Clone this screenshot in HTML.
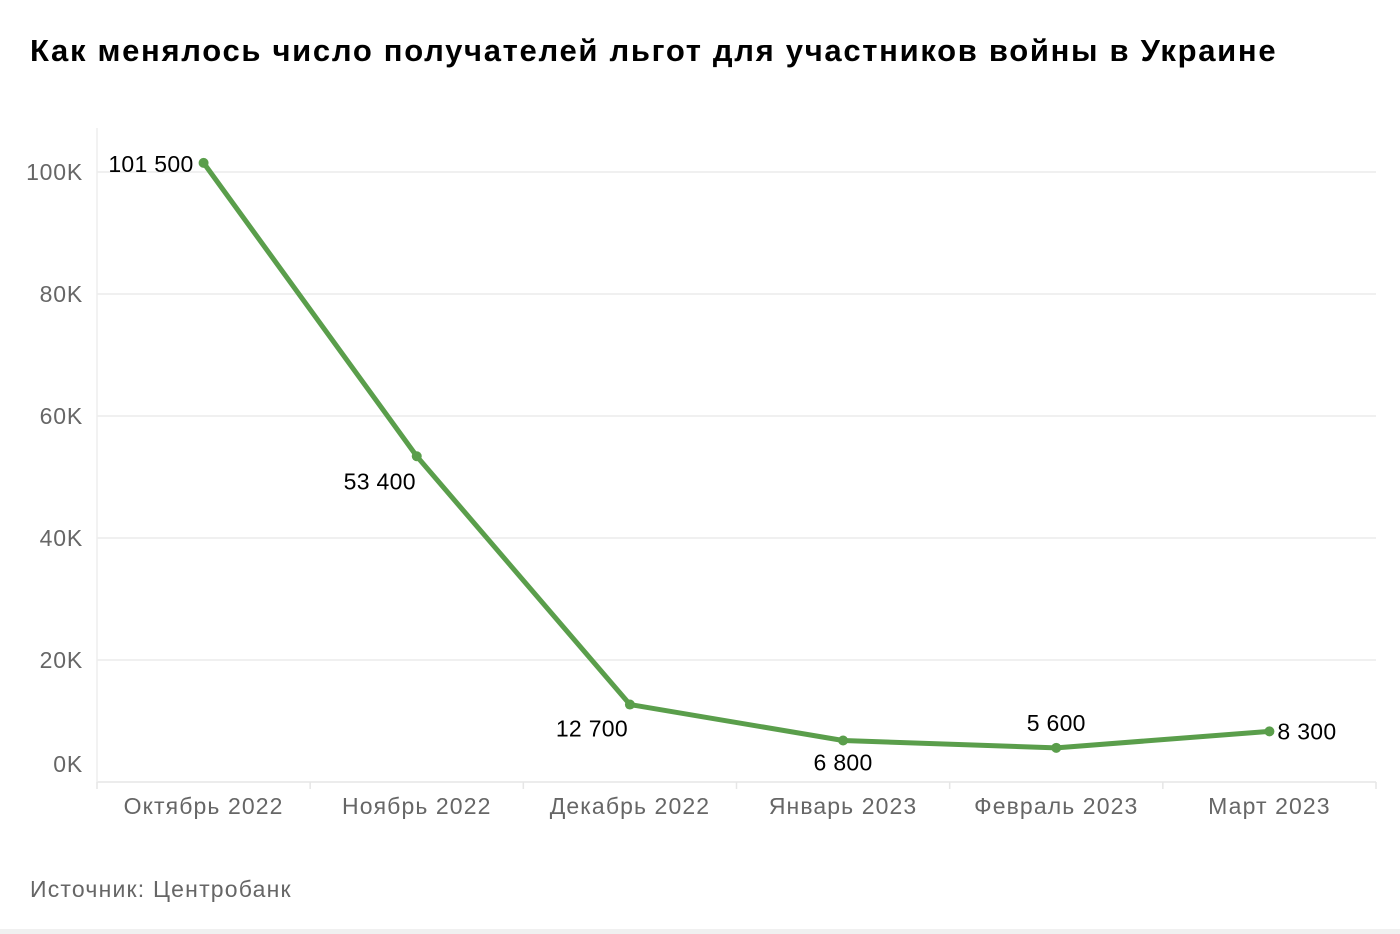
<!DOCTYPE html>
<html><head><meta charset="utf-8">
<style>
body{margin:0;width:1400px;height:934px;background:#fff;overflow:hidden;font-family:"Liberation Sans","DejaVu Sans",sans-serif;}
#title{position:absolute;left:30px;top:33px;font-size:31px;font-weight:bold;color:#000;letter-spacing:1.7px;white-space:nowrap;}
#source{position:absolute;left:30px;top:876px;font-size:23px;color:#666;letter-spacing:1.2px;}
#strip{position:absolute;left:0;top:929px;width:1400px;height:5px;background:#f0f0f0;}
svg{position:absolute;left:0;top:0;}
</style></head>
<body>
<div id="title">Как менялось число получателей льгот для участников войны в Украине</div>
<svg id="chart" width="1400" height="934"></svg>
<div id="source">Источник: Центробанк</div>
<div id="strip"></div>
<script>
const categories=["Октябрь 2022","Ноябрь 2022","Декабрь 2022","Январь 2023","Февраль 2023","Март 2023"];
const values=[101500,53400,12700,6800,5600,8300];
const valueLabels=["101 500","53 400","12 700","6 800","5 600","8 300"];
const yTicks=[0,20000,40000,60000,80000,100000];
const yTickLabels=["0K","20K","40K","60K","80K","100K"];

const NS="http://www.w3.org/2000/svg";
const svg=document.getElementById('chart');
const L=97,R=1376,B=782,T=128;
const band=(R-L)/categories.length;
const x=i=>L+band*(i+0.5);
const y=v=>B-v*(610/100000);
function mk(tag,attrs,parent){const e=document.createElementNS(NS,tag);for(const k in attrs)e.setAttribute(k,attrs[k]);(parent||svg).appendChild(e);return e;}

yTicks.forEach((t,i)=>{
  const g=mk('line',{x1:L,x2:R,y1:y(t),y2:y(t),stroke:i===0?'#e6e6e6':'#ececec','stroke-width':1.5});
  
  
  const tx=mk('text',{x:83,y:y(t)+(i===0?-10:8),'text-anchor':'end','font-size':23,fill:'#666','letter-spacing':0.8});
  tx.textContent=yTickLabels[i];
  
  
});
const ax=mk('line',{x1:L,x2:L,y1:T,y2:B,stroke:'#eeeeee','stroke-width':1.5});


for(let i=0;i<=categories.length;i++){
  const tk=mk('line',{x1:L+band*i,x2:L+band*i,y1:B,y2:B+7,stroke:'#e6e6e6','stroke-width':1.5});
  
  
}
categories.forEach((c,i)=>{
  const tx=mk('text',{x:x(i),y:814,'text-anchor':'middle','font-size':23,fill:'#666','letter-spacing':1.1});
  tx.textContent=c;
  
  
});
const pts=values.map((v,i)=>x(i)+','+y(v)).join(' ');
const pl=mk('polyline',{points:pts,fill:'none',stroke:'#5a9e4b','stroke-width':5,'stroke-linejoin':'round','stroke-linecap':'round'});


const place=[[-10,9,'end'],[-37,33,'middle'],[-38,32,'middle'],[0,30,'middle'],[0,-17,'middle'],[8,8,'start']];
values.forEach((v,i)=>{
  const c=mk('circle',{cx:x(i),cy:y(v),r:5,fill:'#5a9e4b'});
  
  
  const p=place[i];
  const t=mk('text',{x:x(i)+p[0],y:y(v)+p[1],'text-anchor':p[2],'font-size':23,fill:'#000','letter-spacing':0.3});
  t.textContent=valueLabels[i];
  
  
});
</script>
</body></html>
